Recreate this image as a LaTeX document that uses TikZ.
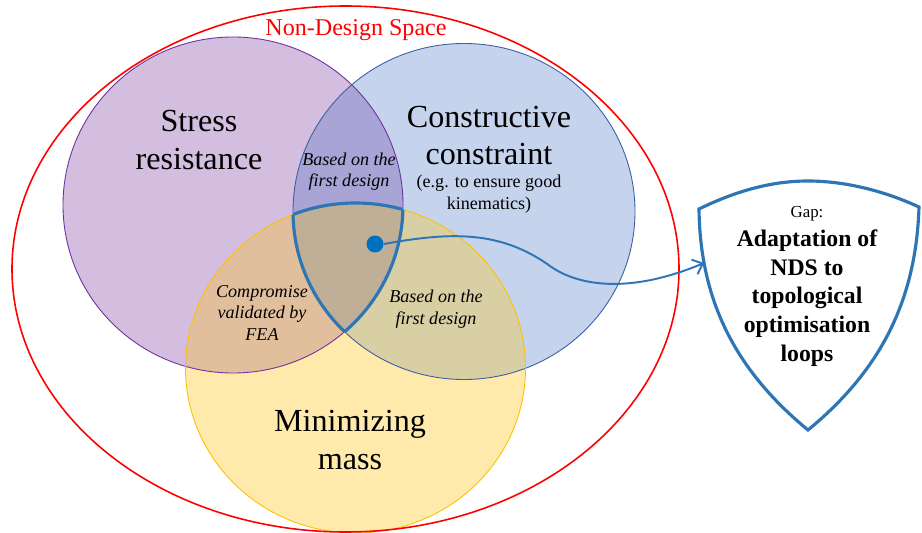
\documentclass[tikz,border=0pt]{standalone}
\usepackage{fontspec}
\setmainfont{Liberation Serif}
\usetikzlibrary{arrows.meta}

\definecolor{stressfill}{RGB}{212,190,224}
\definecolor{consfill}{RGB}{197,211,236}
\definecolor{massfill}{RGB}{255,234,172}
\definecolor{sconsfill}{RGB}{169,164,214}
\definecolor{smassfill}{RGB}{225,191,157}
\definecolor{cmassfill}{RGB}{216,207,165}
\definecolor{allfill}{RGB}{192,175,151}
\definecolor{stressline}{RGB}{112,48,160}
\definecolor{consline}{RGB}{60,95,160}
\definecolor{massline}{RGB}{255,192,0}
\definecolor{gapblue}{RGB}{46,117,182}
\definecolor{dotblue}{RGB}{0,112,192}

\newcommand{\stresscircle}{(233,205) ellipse [x radius=170, y radius=168]}
\newcommand{\conscircle}{(464,211.5) ellipse [x radius=171, y radius=168]}
\newcommand{\masscircle}{(355.5,368) ellipse [x radius=170, y radius=165]}

\begin{document}
\begin{tikzpicture}[x=0.02cm,y=-0.02cm,
    big/.style={align=center,font=\fontsize{18.3}{21.5}\selectfont},
    note/.style={align=center,font=\fontsize{10.3}{12.2}\selectfont\itshape},
    outline/.style={gapblue,line width=1.8pt},
  ]
  \useasboundingbox (0,0) rectangle (922,533);

  % the three circles
  \fill[stressfill] \stresscircle;
  \fill[consfill] \conscircle;
  \fill[massfill] \masscircle;
  \begin{scope}
    \clip \stresscircle;
    \fill[sconsfill] \conscircle;
    \fill[smassfill] \masscircle;
  \end{scope}
  \begin{scope}
    \clip \conscircle;
    \fill[cmassfill] \masscircle;
    \clip \stresscircle;
    \fill[allfill] \masscircle;
  \end{scope}
  \draw[stressline, line width=0.5pt] \stresscircle;
  \draw[consline, line width=0.5pt] \conscircle;
  \draw[massline, line width=0.5pt] \masscircle;

  % outline of the common part
  \begin{scope}
    \clip \stresscircle; \clip \conscircle;
    \draw[outline] \masscircle;
  \end{scope}
  \begin{scope}
    \clip \stresscircle; \clip \masscircle;
    \draw[outline] \conscircle;
  \end{scope}
  \begin{scope}
    \clip \conscircle; \clip \masscircle;
    \draw[outline] \stresscircle;
  \end{scope}

  % non-design space
  \draw[red, line width=0.9pt] (345.5,269) ellipse [x radius=333.5, y radius=263];
  \node[red, font=\fontsize{13.7}{16}\selectfont] (nds) at (356,30) {Non-Design Space};

  \node[big] (stress) at (199,140) {Stress\\resistance};
  \node[big] (cons) at (489,135.5) {Constructive\\constraint};
  \node[align=center, font=\fontsize{10.3}{12.2}\selectfont] (kin) at (489,194) {(e.g. to ensure good\\kinematics)};
  \node[big] (mass) at (350,440) {Minimizing\\mass};

  \node[note] (first1) at (349,171.5) {Based on the\\first design};
  \node[note] (fea) at (262,313) {Compromise\\validated by\\FEA};
  \node[note] (first2) at (436,309) {Based on the\\first design};

  % gap shield
  \draw[gapblue, line width=1.8pt] (699,209) .. controls (740,189) and (775,181) .. (808,181)
    .. controls (841,181) and (880,189) .. (919,207)
    .. controls (916,300) and (881,370) .. (808,430)
    .. controls (735,370) and (700,300) .. (699,209) -- cycle;
  \coordinate (gapin) at (704,263);
  \node[font=\fontsize{9.6}{11}\selectfont] (gaphead) at (807,214) {Gap:};
  \node[align=center, font=\fontsize{13.5}{16.4}\selectfont\bfseries] (gap) at (807,298)
    {Adaptation of\\NDS to\\topological\\optimisation\\loops};

  % link
  \node[circle, fill=dotblue, inner sep=0pt, minimum size=0.34cm] (dot) at (375,244) {};
  \draw[gapblue, line width=1.1pt, -{Straight Barb[length=5pt,width=9pt]}]
    (dot.east) .. controls (450,232) and (500,230) .. (550,266)
    .. controls (575,284) and (625,296) .. (gapin);
\end{tikzpicture}
\end{document}
